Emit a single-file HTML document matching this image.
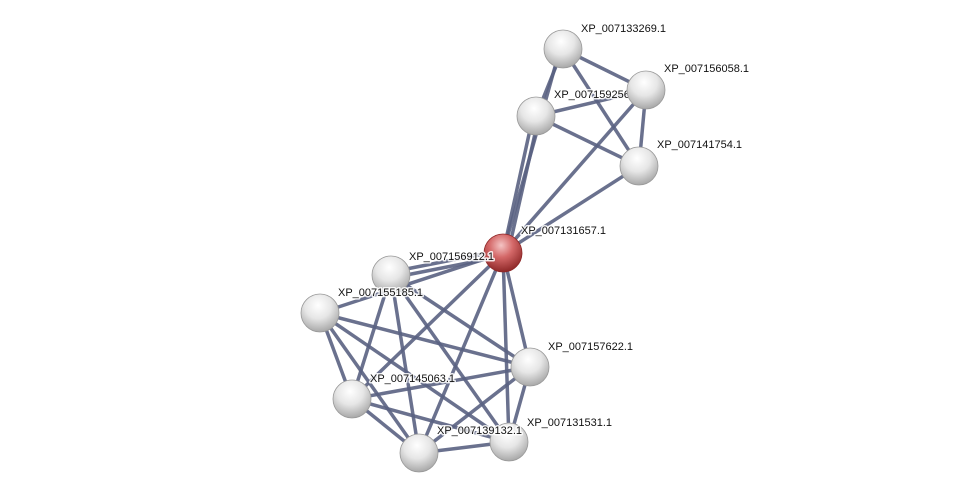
<!DOCTYPE html>
<html><head><meta charset="utf-8"><style>html,body{margin:0;padding:0;background:#fff}svg{display:block}</style></head>
<body>
<svg width="975" height="497" xmlns="http://www.w3.org/2000/svg">
<defs>
<radialGradient id="g" cx="45%" cy="30%" r="70%">
<stop offset="0" stop-color="#ffffff"/><stop offset="0.5" stop-color="#e6e6e6"/><stop offset="1" stop-color="#a8a8a8"/>
</radialGradient>
<radialGradient id="r" cx="45%" cy="30%" r="70%">
<stop offset="0" stop-color="#f4c4c4"/><stop offset="0.45" stop-color="#d46868"/><stop offset="1" stop-color="#8e2828"/>
</radialGradient>
</defs>
<g stroke="#5a6282" stroke-width="3.5" stroke-opacity="0.9" fill="none">
<line x1="563" y1="49" x2="646" y2="90"/>
<line x1="563" y1="49" x2="536" y2="116"/>
<line x1="563" y1="49" x2="639" y2="166"/>
<line x1="536" y1="116" x2="646" y2="90"/>
<line x1="536" y1="116" x2="639" y2="166"/>
<line x1="646" y1="90" x2="639" y2="166"/>
<line x1="503" y1="253" x2="560" y2="49"/>
<line x1="503" y1="253" x2="533" y2="116"/>
<line x1="508" y1="253" x2="539" y2="116"/>
<line x1="503" y1="253" x2="646" y2="90"/>
<line x1="503" y1="253" x2="639" y2="166"/>
<line x1="503" y1="250" x2="391" y2="272"/>
<line x1="503" y1="256" x2="391" y2="278"/>
<line x1="503" y1="253" x2="320" y2="313"/>
<line x1="503" y1="253" x2="352" y2="399"/>
<line x1="503" y1="253" x2="419" y2="453"/>
<line x1="503" y1="253" x2="509" y2="442"/>
<line x1="503" y1="253" x2="530" y2="367"/>
<line x1="391" y1="275" x2="352" y2="399"/>
<line x1="391" y1="275" x2="419" y2="453"/>
<line x1="391" y1="275" x2="509" y2="442"/>
<line x1="391" y1="275" x2="530" y2="367"/>
<line x1="320" y1="313" x2="530" y2="367"/>
<line x1="320" y1="313" x2="352" y2="399"/>
<line x1="320" y1="313" x2="419" y2="453"/>
<line x1="320" y1="313" x2="509" y2="442"/>
<line x1="530" y1="367" x2="352" y2="399"/>
<line x1="530" y1="367" x2="419" y2="453"/>
<line x1="530" y1="367" x2="509" y2="442"/>
<line x1="352" y1="399" x2="419" y2="453"/>
<line x1="352" y1="399" x2="509" y2="442"/>
<line x1="419" y1="453" x2="509" y2="442"/>
</g>
<g stroke="#999" stroke-width="0.8">
<circle cx="563" cy="49" r="19" fill="url(#g)"/>
<circle cx="536" cy="116" r="19" fill="url(#g)"/>
<circle cx="639" cy="166" r="19" fill="url(#g)"/>
<circle cx="391" cy="275" r="19" fill="url(#g)"/>
<circle cx="320" cy="313" r="19" fill="url(#g)"/>
<circle cx="530" cy="367" r="19" fill="url(#g)"/>
<circle cx="352" cy="399" r="19" fill="url(#g)"/>
<circle cx="509" cy="442" r="19" fill="url(#g)"/>
<circle cx="419" cy="453" r="19" fill="url(#g)"/>
<circle cx="503" cy="253" r="19" fill="url(#r)" stroke="#8e2828"/>
</g>
<g font-family="Liberation Sans, sans-serif" font-size="11" fill="#111" stroke="#fff" stroke-width="3" stroke-opacity="0.85" paint-order="stroke" stroke-linejoin="round">
<text x="581" y="32">XP_007133269.1</text>
<text x="664" y="72">XP_007156058.1</text>
<text x="554" y="98">XP_007159256.1</text>
<text x="657" y="148">XP_007141754.1</text>
<text x="521" y="234">XP_007131657.1</text>
<text x="409" y="260">XP_007156912.1</text>
<text x="338" y="296">XP_007155185.1</text>
<text x="548" y="350">XP_007157622.1</text>
<text x="370" y="382">XP_007145063.1</text>
<text x="527" y="426">XP_007131531.1</text>
<text x="437" y="434">XP_007139132.1</text>
</g>
<circle cx="646" cy="90" r="19" fill="url(#g)" stroke="#999" stroke-width="0.8"/>
</svg>
</body></html>
